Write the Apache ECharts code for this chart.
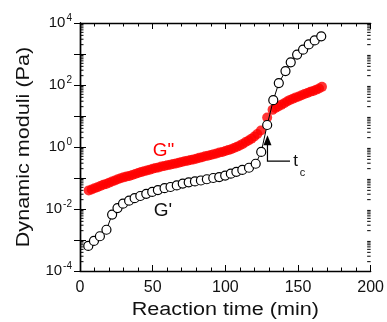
<!DOCTYPE html>
<html><head><meta charset="utf-8">
<script src="https://cdn.jsdelivr.net/npm/echarts@6/dist/echarts.min.js"></script>
<style>html,body{margin:0;padding:0;background:#fff}#c{width:387px;height:322px}</style>
</head><body><div id="c"></div>
<script>
// G'' (loss modulus), red filled circles
var gppTime = [6,8,10,12,14,16,18,20,22,24,26,28,30,32,34,36,38,40,42,44,46,48,50,52,54,56,58,60,62,64,66,68,70,72,74,76,78,80,82,84,86,88,90,92,94,96,98,100,102,104,106,108,110,112,114,116,118,120,122,124.5,128.8,132.5,134.5,136.5,138.5,140.5,142.5,144.5,146.5,148.5,150.5,152.5,154.5,156.5,158.5,160.5,162.5,164.5,166.5];
var gppValue = [0.0398,0.0427,0.0468,0.0501,0.0550,0.0603,0.0646,0.0708,0.0776,0.0832,0.0912,0.0977,0.105,0.112,0.117,0.126,0.135,0.145,0.155,0.166,0.174,0.186,0.200,0.209,0.219,0.234,0.245,0.257,0.269,0.282,0.295,0.309,0.331,0.347,0.363,0.380,0.398,0.417,0.447,0.468,0.501,0.525,0.550,0.589,0.617,0.661,0.692,0.741,0.794,0.851,0.933,1.02,1.12,1.26,1.45,1.62,1.86,2.19,2.63,3.39,8.91,15.8,18.2,20.4,22.9,25.7,29.5,33.1,36.3,39.8,42.7,46.8,51.3,55.0,60.3,64.6,70.8,77.6,87.1];
// G' (storage modulus), open circles with line
var gpTime = [5.7,9.6,13.7,18.2,22.1,25.8,29.6,33.8,37.6,41.5,45.6,49.7,53.6,58.2,62.3,66.6,70.7,74.8,79.1,83.2,87.3,91.7,95.8,99.9,103.8,107.6,111.7,116.3,120.9,124.7,128.8,133.0,136.8,141.4,145.0,149.4,153.5,157.4,161.5,166.0];
var gpValue = [0.000646,0.000933,0.00132,0.00214,0.00661,0.0107,0.0148,0.0186,0.0224,0.0263,0.0309,0.0355,0.0407,0.0468,0.0513,0.0575,0.0661,0.0724,0.0776,0.0832,0.0912,0.100,0.107,0.120,0.138,0.158,0.182,0.214,0.288,0.692,5.13,32.4,115,282,537,955,1380,2040,2750,3720];
var xMin = 0, xMax = 200, xStep = 50;
var yMin = 1e-4, yMax = 1e4;
var xName = 'Reaction time (min)', yName = 'Dynamic moduli (Pa)';

function pairs(a,b){return a.map(function(v,i){return [v,b[i]];});}
var minorLog = [];
for (var e=-4;e<4;e++){for(var m=2;m<10;m++){minorLog.push([0, m*Math.pow(10,e)]);}}

var font = 'Liberation Sans, Arial, sans-serif';
var chart = echarts.init(document.getElementById('c'));
var xBase = {
  type:'value', min:xMin, max:xMax, interval:xStep,
  axisLine:{show:true,lineStyle:{color:'#000',width:1.4}},
  axisTick:{show:true,inside:true,length:6,lineStyle:{color:'#000',width:1}},
  minorTick:{show:true,splitNumber:5,length:3.5,lineStyle:{color:'#000',width:1}},
  splitLine:{show:false}, minorSplitLine:{show:false}
};
var yBase = {
  type:'log', logBase:10, min:yMin, max:yMax, interval:1,
  axisLine:{show:true,lineStyle:{color:'#000',width:1.4}},
  axisTick:{show:true,inside:true,length:6,lineStyle:{color:'#000',width:1}},
  splitLine:{show:false}
};
chart.setOption({
  animation:false,
  grid:{left:80,right:15,top:23,bottom:51,containLabel:false},
  xAxis:[
    Object.assign({}, xBase, {position:'bottom',
      axisLabel:{show:true,fontFamily:font,fontSize:16,color:'#111',margin:9}}),
    Object.assign({}, xBase, {position:'top', axisLabel:{show:false}})
  ],
  yAxis:[
    Object.assign({}, yBase, {position:'left',
      axisLabel:{show:true,margin:8,
        formatter:function(v){var e=Math.round(Math.log10(v)); if(e%2!==0) return ''; return '{b|10}{s|'+e+'}';},
        rich:{b:{fontFamily:font,fontSize:15,color:'#111'},s:{fontFamily:font,fontSize:10,color:'#111',padding:[0,0,9,1]}}}}),
    Object.assign({}, yBase, {position:'right', axisLabel:{show:false}})
  ],
  series:[
    {type:'custom', xAxisIndex:0, yAxisIndex:0, silent:true, clip:false, z:1,
     data:minorLog,
     renderItem:function(params, api){
       var pL = api.coord([xMin, api.value(1)]);
       var pR = api.coord([xMax, api.value(1)]);
       return {type:'group', children:[
         {type:'line', shape:{x1:pL[0],y1:pL[1],x2:pL[0]+3.5,y2:pL[1]}, style:{stroke:'#000',lineWidth:1}},
         {type:'line', shape:{x1:pR[0],y1:pR[1],x2:pR[0]-3.5,y2:pR[1]}, style:{stroke:'#000',lineWidth:1}}
       ]};
     }},
    {name:"G''", type:'scatter', data:pairs(gppTime,gppValue), symbol:'circle', symbolSize:10,
     itemStyle:{color:'#ff0000'}, z:2},
    {name:"G'", type:'line', data:pairs(gpTime,gpValue), symbol:'circle', symbolSize:9, showAllSymbol:true,
     lineStyle:{color:'#000',width:1}, itemStyle:{color:'#fff',borderColor:'#000',borderWidth:1.2}, z:3}
  ]
});

function px(t,v){return chart.convertToPixel({xAxisIndex:0,yAxisIndex:0},[t,v]);}
var tip = px(129, 2.4), corner = px(129, 0.35), hEnd = px(144.5, 0.35);
var gppLab = px(57.5, 0.76), gpLab = px(57, 0.0087), tLab = px(146.8, 0.35);
var gridMidX = (px(xMin,1)[0] + px(xMax,1)[0]) / 2;
var gridMidY = (px(0,yMin)[1] + px(0,yMax)[1]) / 2;
chart.setOption({graphic:[
  {type:'text', x:gridMidX, y:310, scaleX:1.2,
   style:{text:xName, font:'18px '+font, fill:'#111', align:'center', verticalAlign:'middle'}},
  {type:'text', x:24, y:gridMidY, rotation:Math.PI/2, scaleX:1.2,
   style:{text:yName, font:'18px '+font, fill:'#111', align:'center', verticalAlign:'middle'}},
  {type:'polyline', shape:{points:[[tip[0], tip[1]+8],[corner[0],corner[1]],[hEnd[0],hEnd[1]]]}, style:{stroke:'#000',lineWidth:1.2,fill:null}},
  {type:'polygon', shape:{points:[[tip[0],tip[1]],[tip[0]-4,tip[1]+10],[tip[0]+4,tip[1]+10]]}, style:{fill:'#000'}},
  {type:'text', x:tLab[0], y:tLab[1], style:{text:'t', font:'17px '+font, fill:'#111', verticalAlign:'middle'}},
  {type:'text', x:tLab[0]+6.5, y:tLab[1]+12, style:{text:'c', font:'11px '+font, fill:'#111', verticalAlign:'middle'}},
  {type:'text', x:gppLab[0], y:gppLab[1], style:{text:'G"', font:'19px '+font, fill:'#ff0000', align:'center', verticalAlign:'middle'}},
  {type:'text', x:gpLab[0], y:gpLab[1], style:{text:"G'", font:'19px '+font, fill:'#111', align:'center', verticalAlign:'middle'}}
]});
</script></body></html>
